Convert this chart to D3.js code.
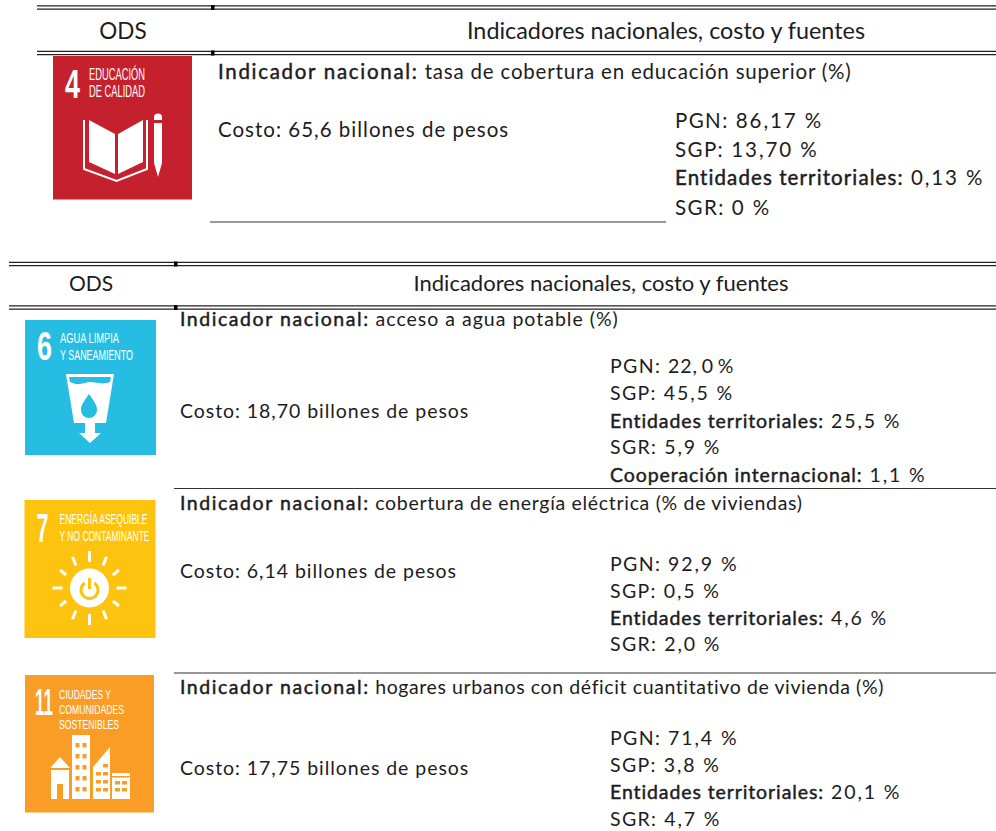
<!DOCTYPE html>
<html><head><meta charset="utf-8">
<script src="https://cdnjs.cloudflare.com/ajax/libs/d3/7.9.0/d3.min.js"></script>
<style>html,body{margin:0;padding:0;background:#fff}svg{display:block}
text{font-family:"Lato","Open Sans",sans-serif;fill:#1c1c22}
.b{stroke:#1c1c22;stroke-width:.45px}</style></head><body>
<script>
const headerLabels = ["ODS", "Indicadores nacionales, costo y fuentes"];
const goalIds = [4, 6, 7, 11];
const goalNumbers = ["4", "6", "7", "11"];
const goalColors = ["#c5202e", "#27bde2", "#fdc30f", "#f99d26"];
const goalTitles = [["EDUCACIÓN", "DE CALIDAD"], ["AGUA LIMPIA", "Y SANEAMIENTO"], ["ENERGÍA ASEQUIBLE", "Y NO CONTAMINANTE"], ["CIUDADES Y", "COMUNIDADES", "SOSTENIBLES"]];
const indicators = ["tasa de cobertura en educación superior (%)", "acceso a agua potable (%)", "cobertura de energía eléctrica (% de viviendas)", "hogares urbanos con déficit cuantitativo de vivienda (%)"];
const costs = ["65,6", "18,70", "6,14", "17,75"];
const sourceNames = [["PGN", "SGP", "Entidades territoriales", "SGR"], ["PGN", "SGP", "Entidades territoriales", "SGR", "Cooperación internacional"], ["PGN", "SGP", "Entidades territoriales", "SGR"], ["PGN", "SGP", "Entidades territoriales", "SGR"]];
const sourceValues = [["86,17 %", "13,70 %", "0,13 %", "0 %"], ["22, 0 %", "45,5 %", "25,5 %", "5,9 %", "1,1 %"], ["92,9 %", "0,5 %", "4,6 %", "2,0 %"], ["71,4 %", "3,8 %", "20,1 %", "4,7 %"]];

// layout
const W = 996, H = 831;
const narrow = '"Liberation Sans Narrow","Liberation Sans",sans-serif';
const tables = [
  {x0: 37, split: 211, top: 7.5, bot: 53, odsX: 123, headX: 666, headY: 39, headSize: 22.5, headWidth: 398, size: 20.5, ls: 1.0, lsBold: 1.7, lsEnt: 1.1, lsVal: 1.9},
  {x0: 9, split: 174, top: 264, bot: 307.5, odsX: 91, headX: 601, headY: 291, headSize: 21, headWidth: 375, size: 19.5, ls: 0.95, lsBold: 1.55, lsEnt: 0.9, lsVal: 1.9}
];
const rowLayout = [
  {t: 0, box: [53, 56, 139, 143.5], indX: 218, indY: 79, indLs: 0.8, costX: 218, costY: 137, srcX: 675, srcY: [128, 157, 185, 215]},
  {t: 1, box: [25, 320, 131, 135], indX: 180, indY: 326, indLs: 1.0, costX: 180, costY: 418, srcX: 610, srcY: [373, 400, 428, 454, 482]},
  {t: 1, box: [24.5, 500, 131, 138], indX: 180, indY: 510, indLs: 0.68, costX: 180, costY: 578, srcX: 610, srcY: [571, 598, 625, 651]},
  {t: 1, box: [25, 675, 129, 137.5], indX: 180, indY: 694, indLs: 0.6, costX: 180, costY: 775, srcX: 610, srcY: [745, 772, 799, 826]}
];
const rules = [[210, 666, 222], [174, 996, 488.5], [174, 996, 673]];

const svg = d3.select("body").append("svg").attr("width", W).attr("height", H).attr("viewBox", [0, 0, W, H]);

tables.forEach(t => {
  [t.top, t.bot].forEach(y => {
    [y - 1.6, y + 1.6].forEach(yy => svg.append("line").attr("x1", t.x0).attr("x2", W).attr("y1", yy).attr("y2", yy).attr("stroke", "#222").attr("stroke-width", 1.3));
    svg.append("rect").attr("x", t.split).attr("y", y - 2.5).attr("width", 3.5).attr("height", 5).attr("fill", "#000");
  });
  svg.append("text").attr("x", t.odsX).attr("y", t.headY).attr("text-anchor", "middle").attr("font-size", t.headSize).text(headerLabels[0]);
  svg.append("text").attr("x", t.headX).attr("y", t.headY).attr("text-anchor", "middle").attr("font-size", t.headSize)
    .attr("textLength", t.headWidth).attr("lengthAdjust", "spacingAndGlyphs").text(headerLabels[1]);
});
rules.forEach(r => svg.append("line").attr("x1", r[0]).attr("x2", r[1]).attr("y1", r[2]).attr("y2", r[2]).attr("stroke", "#333").attr("stroke-width", 1.2));

function addPair(x, y, t, first, rest, bold, ls1, ls2) {
  const s = svg.append("text").attr("x", x).attr("y", y).attr("font-size", t.size);
  s.append("tspan").attr("class", bold ? "b" : null).style("letter-spacing", ls1 + "px").text(first);
  s.append("tspan").style("letter-spacing", ls2 + "px").text(" ");
  const tight = rest.includes(", ");
  s.append("tspan").style("letter-spacing", (tight ? 0.9 : ls2) + "px").style("word-spacing", tight ? "-2px" : null).text(rest);
}
function label(g, str, x, y, w, size, weight) {
  g.append("text").attr("x", x).attr("y", y).attr("font-size", size).attr("textLength", w).attr("lengthAdjust", "spacingAndGlyphs")
   .style("font-family", narrow).style("fill", "#fff").attr("font-weight", weight).text(str);
}
function numeral(g, str, x, y, w, size) {
  const n = g.append("text").attr("font-size", size).style("font-family", narrow).style("fill", "#fff").attr("font-weight", 700).text(str);
  const natural = n.node().getComputedTextLength();
  n.attr("transform", `translate(${x},${y}) scale(${w / natural},1)`);
}
function drawIcon(i) {
  const [x, y, w, h] = rowLayout[i].box, col = goalColors[i];
  const g = svg.append("g").attr("transform", `translate(${x},${y})`);
  g.append("rect").attr("width", w).attr("height", h).attr("fill", col);
  const titleLayout = [
    [[36, 24, 56, 16], [36, 41, 56, 16]],
    [[35, 23, 59, 15], [35, 40, 73, 15]],
    [[35, 24, 88, 15.5], [35, 41, 90, 15.5]],
    [[34, 24, 52, 13], [34, 39, 65, 13], [34, 54, 60, 13]]
  ][i];
  const numLayout = [[12, 42, 15, 30], [12, 40, 15, 29], [12, 42, 12, 29], [10, 40, 18, 27]][i];
  numeral(g, goalNumbers[i], numLayout[0], numLayout[1], numLayout[2], numLayout[3] * 1.38);
  goalTitles[i].forEach((t, j) => label(g, t, titleLayout[j][0], titleLayout[j][1], titleLayout[j][2], titleLayout[j][3], 400));
  const W_ = "#fff";
  if (i === 0) {
    g.append("path").attr("fill", W_).attr("d", "M36,64L62,78V118L36,106Z M65,78L90,64V106L65,118Z");
    g.append("path").attr("fill", "none").attr("stroke", W_).attr("stroke-width", 2).attr("d", "M31,64V113L63.5,125L94,113V64");
    g.append("path").attr("fill", W_).attr("d", "M101,61a4,3.5 0 0 1 8,0V64H101Z M101,67H109V107L105,121L101,107Z");
  }
  if (i === 1) {
    g.append("path").attr("fill", W_).attr("d", "M41,54H89L81,103H70V113H76L65,123L54,113H60V103H49Z");
    g.append("path").attr("fill", col).attr("d", "M44,57H86L85,62C75,66 68,60 60,63C54,65 49,64 45,62Z");
    g.append("path").attr("fill", col).attr("d", "M64,74C70,83 72,85 72,90A8,8 0 0 1 56,90C56,85 58,83 64,74Z");
  }
  if (i === 2) {
    const cx = 65, cy = 88;
    d3.range(12).forEach(k => {
      const a = k * Math.PI / 6, long = k % 3 === 0;
      g.append("line").attr("x1", cx + 27 * Math.sin(a)).attr("y1", cy - 26 * Math.cos(a))
        .attr("x2", cx + (long ? 37 : 34) * Math.sin(a)).attr("y2", cy - (long ? 37 : 36) * Math.cos(a))
        .attr("stroke", W_).attr("stroke-width", 3);
    });
    g.append("circle").attr("cx", cx).attr("cy", cy).attr("r", 19.5).attr("fill", W_);
    g.append("path").attr("fill", "none").attr("stroke", col).attr("stroke-width", 3).attr("d", d3.arc()({innerRadius: 8.5, outerRadius: 8.5, startAngle: 0.6, endAngle: 2 * Math.PI - 0.6})).attr("transform", `translate(${cx},${cy + 2})`);
    g.append("line").attr("x1", cx).attr("x2", cx).attr("y1", cy - 10).attr("y2", cy + 1).attr("stroke", col).attr("stroke-width", 3);
  }
  if (i === 3) {
    g.append("path").attr("fill", W_).attr("d", "M25,93L35,82L45,93Z M26,95H44V124H38V109H32V124H26Z");
    g.append("rect").attr("x", 47).attr("y", 60).attr("width", 18).attr("height", 64).attr("fill", W_);
    g.append("path").attr("fill", W_).attr("d", "M68,124V92L85,72V124Z");
    g.append("rect").attr("x", 87).attr("y", 98).attr("width", 18).attr("height", 26).attr("fill", W_);
    d3.range(5).forEach(r => [50.5, 57.5].forEach(cxx => g.append("rect").attr("x", cxx).attr("y", 68 + r * 11).attr("width", 4).attr("height", 4.5).attr("fill", col)));
    d3.range(4).forEach(r => [71, 78].forEach(cxx => { if (!(r === 0 && cxx === 71)) g.append("rect").attr("x", cxx).attr("y", 89 + r * 8).attr("width", 5).attr("height", 3.5).attr("fill", col); }));
    d3.range(2).forEach(r => [90, 97].forEach(cxx => g.append("rect").attr("x", cxx).attr("y", 106 + r * 7).attr("width", 5).attr("height", 3.5).attr("fill", col)));
    g.append("rect").attr("x", 87).attr("y", 101).attr("width", 18).attr("height", 1.5).attr("fill", col);
  }
}
goalIds.forEach((id, i) => {
  const L = rowLayout[i], t = tables[L.t];
  addPair(L.indX, L.indY, t, "Indicador nacional:", indicators[i], true, t.lsBold, L.indLs);
  svg.append("text").attr("x", L.costX).attr("y", L.costY).attr("font-size", t.size).style("letter-spacing", t.ls + "px").text(`Costo: ${costs[i]} billones de pesos`);
  sourceNames[i].forEach((n, j) => {
    const bold = n.startsWith("Entidades") || n.startsWith("Cooperación");
    addPair(L.srcX, L.srcY[j], t, n + ":", sourceValues[i][j], bold, bold ? t.lsEnt : t.ls + 0.4, t.lsVal);
  });
  drawIcon(i);
});
</script></body></html>
